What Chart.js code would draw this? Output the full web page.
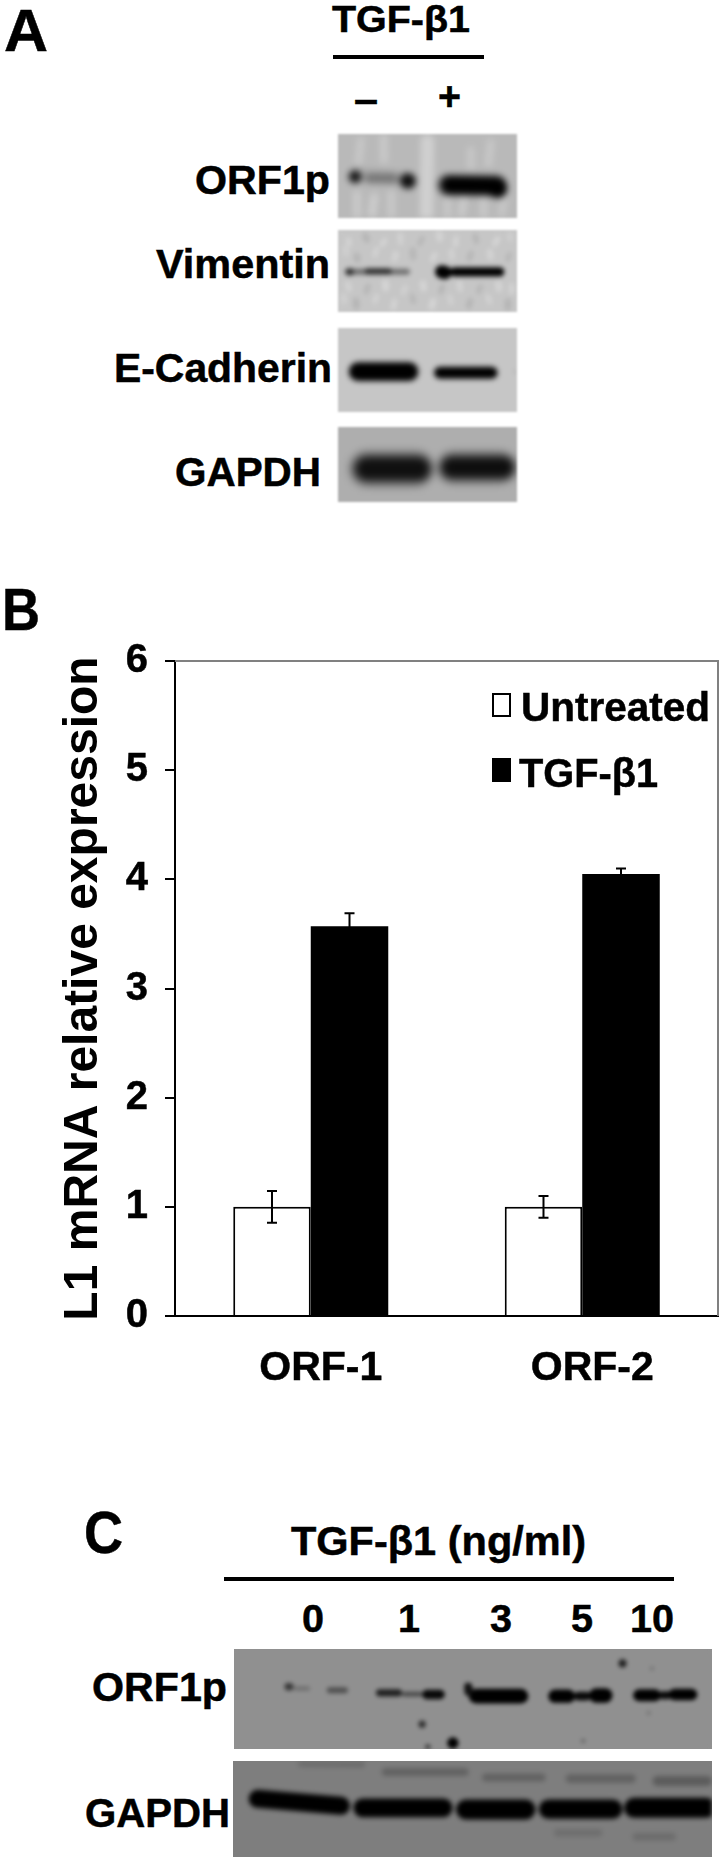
<!DOCTYPE html>
<html>
<head>
<meta charset="utf-8">
<title>TGF-β1 and L1 expression</title>
<script src="https://cdn.jsdelivr.net/npm/chart.js@4"></script>
<style>
  html, body { margin: 0; padding: 0; background: #fff; }
  #page { position: relative; width: 720px; height: 1859px; overflow: hidden; }
  #page canvas { position: absolute; }
  .blot { position: absolute; overflow: hidden; }
  .blot canvas { left: 0; top: 0; }
  .label {
    position: absolute; white-space: pre; color: #000; line-height: 1;
    font-family: "Liberation Sans", Arial, sans-serif; font-weight: bold;
    -webkit-text-stroke: 0.5px #000;
    transform-origin: left top;
  }
  .rule { position: absolute; background: #000; }
</style>
</head>
<body>
<div id="page">
  <div class="rule" style="left:333px;top:55px;width:151px;height:4px"></div>
  <div class="rule" style="left:224px;top:1577px;width:450px;height:4px"></div>
  <canvas id="barChart" width="720" height="830" style="left:0;top:570px"></canvas>
  <div class="rule" style="left:492px;top:693px;width:15px;height:20px;background:#fff;border:2px solid #000"></div>
  <div class="rule" style="left:492px;top:758px;width:19px;height:24px"></div>
</div>

<script>
const categories = ["ORF-1", "ORF-2"];
const seriesNames = ["Untreated", "TGF-β1"];
const untreated = [1, 1];
const treated = [3.57, 4.05];
const untreatedErr = [0.145, 0.1];
const treatedErr = [0.12, 0.05];
const yTicks = [0, 1, 2, 3, 4, 5, 6];

// text: [string, left, right, baseline, font size]
const labels = [
  ["A", 4, 48, 52, 60],
  ["TGF-β1", 332, 470, 32, 37],
  ["–", 354, 378, 113, 40],
  ["+", 438, 461, 110, 40],
  ["ORF1p", 195, 330, 194, 40],
  ["Vimentin", 156, 330, 278, 40],
  ["E-Cadherin", 114, 332, 382, 40],
  ["GAPDH", 175, 321, 486, 40],
  ["B", 2, 40, 631, 60],
  [seriesNames[0], 521, 710, 721, 40],
  [seriesNames[1], 519, 658, 787, 40],
  ["C", 84, 123, 1554, 60],
  ["TGF-β1 (ng/ml)", 291, 586, 1555, 40],
  ["0", 302, 324, 1632, 39],
  ["1", 398, 420, 1632, 39],
  ["3", 490, 512, 1632, 39],
  ["5", 571, 593, 1632, 39],
  ["10", 630, 674, 1632, 39],
  ["ORF1p", 92, 227, 1701, 40],
  ["GAPDH", 85, 230, 1827, 40]
];

// blot bands: [x0, y0, x1, y1, thickness, grey level]
const orf1pBandsA = [
  [80, 205, 84, 270, 20, 0xcc], [132, 215, 128, 265, 22, 0xce], [182, 205, 186, 270, 20, 0xca],
  [292, 50, 290, 272, 40, 0xd0], [400, 215, 396, 265, 20, 0xcc], [458, 218, 462, 270, 20, 0xca],
  [520, 215, 516, 265, 20, 0xc8], [92, 48, 88, 110, 22, 0xc8], [160, 40, 164, 105, 22, 0xca],
  [420, 75, 424, 125, 20, 0xc8], [480, 55, 476, 115, 22, 0xc8], [350, 225, 354, 270, 20, 0xc8],
  [60, 150, 250, 162, 44, 0xa8],
  [105, 160, 205, 160, 30, 0x78],
  [60, 155, 92, 155, 38, 0x18],
  [210, 168, 258, 168, 46, 0x10],
  [322, 180, 530, 182, 66, 0x50],
  [335, 180, 525, 182, 50, 0x00],
  [480, 190, 525, 190, 58, 0x00]
];
const vimentinBandsA = [
  [48, 345, 66, 356, 16, 0xd4], [98, 332, 120, 344, 18, 0xb4], [150, 358, 172, 346, 14, 0xd6],
  [205, 330, 218, 352, 16, 0xd2], [262, 356, 284, 340, 14, 0xb6], [318, 326, 338, 342, 18, 0xd4],
  [368, 358, 386, 340, 16, 0xd4], [428, 332, 446, 350, 14, 0xb4], [486, 356, 510, 342, 16, 0xd6],
  [532, 328, 546, 344, 14, 0xd0], [72, 392, 92, 404, 18, 0xb4], [128, 390, 148, 372, 14, 0xd4],
  [186, 402, 206, 386, 16, 0xd4], [242, 376, 256, 396, 18, 0xb6], [300, 404, 322, 388, 14, 0xd6],
  [356, 378, 374, 398, 16, 0xd2], [410, 402, 430, 384, 14, 0xb4], [470, 380, 490, 396, 18, 0xd4],
  [525, 404, 545, 388, 14, 0xb6], [42, 368, 56, 386, 14, 0xd2],
  [46, 476, 66, 492, 16, 0xd4], [102, 500, 122, 482, 14, 0xb4], [158, 472, 176, 490, 18, 0xd6],
  [212, 502, 234, 486, 14, 0xd2], [270, 474, 290, 490, 18, 0xd6], [325, 500, 345, 482, 14, 0xb4],
  [380, 472, 398, 492, 16, 0xd4], [438, 500, 458, 484, 14, 0xb6], [495, 474, 515, 492, 18, 0xd4],
  [536, 500, 550, 480, 14, 0xd4], [70, 526, 88, 544, 18, 0xb4], [128, 528, 148, 512, 14, 0xd4],
  [182, 546, 202, 528, 16, 0xd4], [240, 512, 258, 530, 14, 0xb6], [296, 544, 318, 528, 18, 0xd6],
  [352, 514, 370, 532, 14, 0xd2], [408, 544, 428, 526, 16, 0xb4], [466, 514, 486, 530, 14, 0xd4],
  [522, 546, 542, 528, 18, 0xb4], [36, 511, 50, 529, 14, 0xd2],
  [45, 440, 240, 440, 18, 0x70],
  [48, 440, 72, 440, 22, 0x30],
  [105, 438, 185, 438, 18, 0x30],
  [315, 440, 365, 442, 40, 0x00],
  [360, 440, 522, 440, 28, 0x00]
];
const cadherinBandsA = [
  [55, 155, 268, 155, 62, 0x60],
  [60, 155, 262, 155, 50, 0x00],
  [312, 158, 502, 158, 36, 0x00],
  [552, 155, 556, 155, 6, 0x90]
];
const gapdhBandsA = [
  [60, 447, 310, 447, 104, 0x70],
  [322, 443, 556, 443, 94, 0x70],
  [75, 447, 302, 447, 72, 0x10],
  [332, 443, 554, 443, 66, 0x0e]
];
const orf1pBandsC = [
  [178, 140, 205, 140, 22, 0x38], [205, 145, 255, 145, 14, 0x70], [305, 150, 368, 150, 18, 0x50],
  [452, 158, 530, 158, 22, 0x20], [530, 162, 590, 162, 14, 0x48], [590, 163, 658, 163, 28, 0x08],
  [730, 168, 908, 168, 44, 0x00], [722, 140, 735, 155, 24, 0x10],
  [968, 168, 1048, 168, 40, 0x00], [1045, 168, 1095, 168, 26, 0x08], [1090, 166, 1160, 166, 44, 0x00],
  [1222, 165, 1305, 165, 36, 0x00], [1300, 165, 1335, 165, 24, 0x08], [1328, 163, 1414, 163, 34, 0x00],
  [1190, 70, 1190, 70, 24, 0x20], [590, 252, 590, 252, 22, 0x30], [682, 308, 682, 308, 34, 0x00],
  [607, 320, 607, 320, 16, 0x38], [1278, 85, 1278, 85, 12, 0x70], [1072, 302, 1072, 302, 14, 0x68],
  [1268, 218, 1268, 218, 12, 0x70]
];
const gapdhBandsC = [
  [470, 395, 730, 395, 24, 0x62], [770, 412, 960, 412, 24, 0x62], [1020, 415, 1230, 415, 26, 0x62],
  [1280, 422, 1458, 422, 30, 0x5c], [220, 370, 420, 372, 20, 0x6c], [1220, 590, 1350, 590, 22, 0x6c],
  [985, 578, 1130, 578, 22, 0x6e],
  [72, 476, 375, 497, 54, 0x00], [385, 503, 682, 503, 56, 0x00], [692, 508, 930, 508, 60, 0x00],
  [940, 507, 1190, 507, 58, 0x00], [1195, 503, 1470, 503, 60, 0x00]
];

// blot panels: bands, page box, zoom crop box the band coordinates refer to, background grey, edge blur, film blur
const blots = [
  [orf1pBandsA, [338, 134, 179, 84], [25, 28, 560, 278], 0xb9, 1, 3],
  [vimentinBandsA, [338, 230, 179, 82], [25, 315, 560, 560], 0xc6, 1, 2],
  [cadherinBandsA, [338, 328, 179, 84], [25, 25, 560, 275], 0xc6, 1, 2.6],
  [gapdhBandsA, [338, 427, 179, 75], [25, 320, 560, 548], 0xae, 1, 4],
  [orf1pBandsC, [234, 1649, 478, 100], [27, 27, 1458, 326], 0x90, 0, 2.2],
  [gapdhBandsC, [233, 1761, 479, 96], [25, 362, 1458, 651], 0x7e, 0, 2.8]
];

const grey = v => `rgb(${v},${v},${v})`;
const page = document.getElementById("page");

Chart.defaults.font.family = '"Liberation Sans", Arial, sans-serif';
Chart.defaults.font.weight = "bold";
Chart.defaults.color = "#000";
Chart.defaults.animation = false;

function addLabels() {
  const measure = document.createElement("canvas").getContext("2d");
  labels.forEach(([text, left, right, baseline, size]) => {
    const el = document.createElement("div");
    el.className = "label";
    el.textContent = text;
    el.style.left = `${left}px`;
    el.style.top = `${baseline - 0.8465 * size}px`;
    el.style.fontSize = `${size}px`;
    measure.font = `bold ${size}px "Liberation Sans"`;
    el.style.transform = `scaleX(${(right - left) / measure.measureText(text).width})`;
    page.appendChild(el);
  });
}

function addBlot([bands, box, crop, background, edgeBlur, filmBlur]) {
  // the film is blurred inside a clipping wrapper, so the panel edge keeps its own softness
  const wrap = document.createElement("div");
  wrap.className = "blot";
  wrap.style.cssText = `left:${box[0]}px;top:${box[1]}px;width:${box[2]}px;height:${box[3]}px`;
  wrap.style.background = grey(background);
  if (edgeBlur) wrap.style.filter = `blur(${edgeBlur}px)`;
  const canvas = document.createElement("canvas");
  canvas.width = box[2];
  canvas.height = box[3];
  canvas.style.filter = `blur(${filmBlur}px)`;
  wrap.appendChild(canvas);
  page.appendChild(wrap);
  const perUnit = box[2] / (crop[2] - crop[0]);

  new Chart(canvas, {
    type: "line",
    data: {
      // chart.js paints the first dataset last, the rows are listed bottom to top
      datasets: [...bands].reverse().map(([x0, y0, x1, y1, thick, level]) => {
        // bands are listed edge to edge, the round caps add half a thickness
        const inset = Math.max(Math.min(thick / 2, Math.abs(x1 - x0) / 2 - 0.5), 0.25);
        return {
          data: [{ x: x0 + inset, y: y0 }, { x: x1 - (x1 === x0 ? 0 : inset), y: y1 }],
          borderColor: grey(level),
          borderWidth: thick * perUnit,
          borderCapStyle: "round",
          pointRadius: 0
        };
      })
    },
    options: {
      responsive: false,
      layout: { padding: 0 },
      plugins: { legend: { display: false }, tooltip: { enabled: false } },
      scales: {
        x: { type: "linear", display: false, min: crop[0], max: crop[2] },
        y: { type: "linear", display: false, min: crop[1], max: crop[3], reverse: true }
      }
    },
    plugins: [{
      id: "blotFilm",
      beforeDatasetsDraw(chart) {
        const { ctx, width, height } = chart;
        ctx.fillStyle = grey(background);
        ctx.fillRect(0, 0, width, height);
      }
    }]
  });
}

const barFrame = {
  id: "barFrame",
  afterDatasetsDraw(chart) {
    const { ctx, chartArea: area } = chart;
    const yScale = chart.scales.y;
    ctx.save();
    ctx.strokeStyle = "#808080";
    ctx.lineWidth = 2;
    ctx.beginPath();
    ctx.moveTo(area.left, area.top);
    ctx.lineTo(area.right, area.top);
    ctx.lineTo(area.right, area.bottom);
    ctx.stroke();

    ctx.strokeStyle = "#000";
    [untreatedErr, treatedErr].forEach((errs, i) => {
      const values = chart.data.datasets[i].data;
      chart.getDatasetMeta(i).data.forEach((bar, j) => {
        const hi = yScale.getPixelForValue(values[j] + errs[j]);
        const lo = yScale.getPixelForValue(values[j] - errs[j]);
        ctx.beginPath();
        ctx.moveTo(bar.x, hi);
        ctx.lineTo(bar.x, lo);
        ctx.moveTo(bar.x - 5, hi);
        ctx.lineTo(bar.x + 5, hi);
        ctx.moveTo(bar.x - 5, lo);
        ctx.lineTo(bar.x + 5, lo);
        ctx.stroke();
      });
    });
    ctx.restore();
  }
};

function drawBarChart() {
  new Chart(document.getElementById("barChart"), {
    type: "bar",
    data: {
      labels: categories,
      datasets: [
        { label: seriesNames[0], data: untreated, backgroundColor: "#fff", borderColor: "#000", borderWidth: 2 },
        { label: seriesNames[1], data: treated, backgroundColor: "#000", borderColor: "#000", borderWidth: 0 }
      ]
    },
    options: {
      responsive: false,
      layout: { padding: { top: 91, right: 2 } },
      barPercentage: 1,
      categoryPercentage: 0.571,
      plugins: { legend: { display: false }, tooltip: { enabled: false } },
      scales: {
        x: {
          grid: { display: false },
          border: { color: "#000", width: 2 },
          ticks: {
            font: { size: 41 },
            padding: 20,
            maxRotation: 0,
            labelOffset: 10,
            textStrokeColor: "#000",
            textStrokeWidth: 0.5
          },
          afterFit: s => { s.height = 84; }
        },
        y: {
          min: 0,
          max: 6,
          afterBuildTicks: s => { s.ticks = yTicks.map(value => ({ value })); },
          grid: { drawOnChartArea: false, color: "#000", lineWidth: 2, tickLength: 10 },
          border: { color: "#000", width: 2 },
          ticks: { font: { size: 40 }, padding: 17, textStrokeColor: "#000", textStrokeWidth: 0.5 },
          title: {
            display: true,
            text: "L1 mRNA relative expression",
            font: { size: 48 },
            padding: { top: 55, bottom: 0 }
          },
          afterFit: s => { s.width = 175; }
        }
      }
    },
    plugins: [barFrame]
  });
}

addLabels();
blots.forEach(addBlot);
drawBarChart();
</script>
</body>
</html>
